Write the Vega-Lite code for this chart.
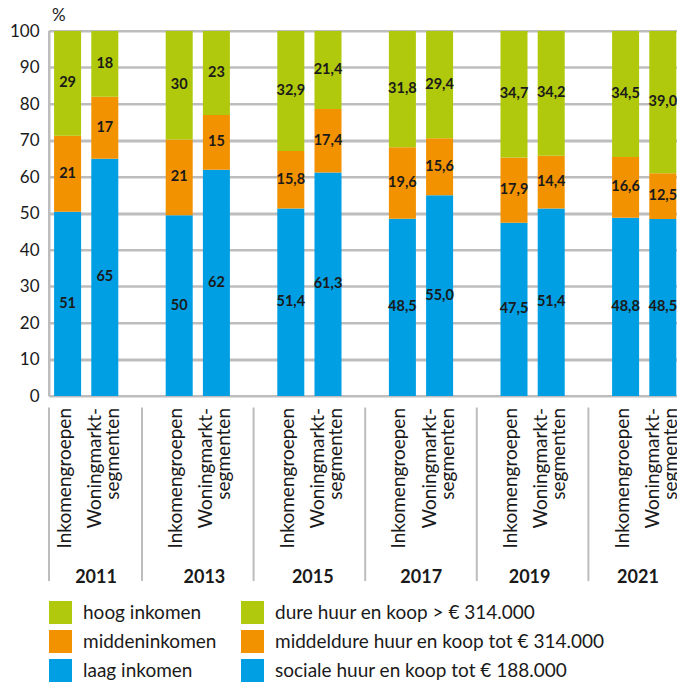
{
  "$schema": "https://vega.github.io/schema/vega-lite/v6.json",
  "width": 628,
  "height": 365,
  "autosize": {"type": "none"},
  "padding": {"left": 49, "top": 31, "right": 0, "bottom": 290},
  "background": "white",
  "title": {"text": "%", "anchor": "start", "frame": "group", "offset": -3, "dx": 3, "fontSize": 17, "fontWeight": "normal", "font": "Lato", "color": "#1a1a1a"},
  "config": {"view": {"stroke": null, "fill": null}, "font": "Lato"},
  "data": {"values": [
    {"year": "2011", "type": "Inkomengroepen", "level": 1, "cat": "laag inkomen", "value": 51, "label": "51"},
    {"year": "2011", "type": "Inkomengroepen", "level": 2, "cat": "middeninkomen", "value": 21, "label": "21"},
    {"year": "2011", "type": "Inkomengroepen", "level": 3, "cat": "hoog inkomen", "value": 29, "label": "29"},
    {"year": "2011", "type": "Woningmarktsegmenten", "level": 1, "cat": "sociale huur en koop tot € 188.000", "value": 65, "label": "65"},
    {"year": "2011", "type": "Woningmarktsegmenten", "level": 2, "cat": "middeldure huur en koop tot € 314.000", "value": 17, "label": "17"},
    {"year": "2011", "type": "Woningmarktsegmenten", "level": 3, "cat": "dure huur en koop > € 314.000", "value": 18, "label": "18"},
    {"year": "2013", "type": "Inkomengroepen", "level": 1, "cat": "laag inkomen", "value": 50, "label": "50"},
    {"year": "2013", "type": "Inkomengroepen", "level": 2, "cat": "middeninkomen", "value": 21, "label": "21"},
    {"year": "2013", "type": "Inkomengroepen", "level": 3, "cat": "hoog inkomen", "value": 30, "label": "30"},
    {"year": "2013", "type": "Woningmarktsegmenten", "level": 1, "cat": "sociale huur en koop tot € 188.000", "value": 62, "label": "62"},
    {"year": "2013", "type": "Woningmarktsegmenten", "level": 2, "cat": "middeldure huur en koop tot € 314.000", "value": 15, "label": "15"},
    {"year": "2013", "type": "Woningmarktsegmenten", "level": 3, "cat": "dure huur en koop > € 314.000", "value": 23, "label": "23"},
    {"year": "2015", "type": "Inkomengroepen", "level": 1, "cat": "laag inkomen", "value": 51.4, "label": "51,4"},
    {"year": "2015", "type": "Inkomengroepen", "level": 2, "cat": "middeninkomen", "value": 15.8, "label": "15,8"},
    {"year": "2015", "type": "Inkomengroepen", "level": 3, "cat": "hoog inkomen", "value": 32.9, "label": "32,9"},
    {"year": "2015", "type": "Woningmarktsegmenten", "level": 1, "cat": "sociale huur en koop tot € 188.000", "value": 61.3, "label": "61,3"},
    {"year": "2015", "type": "Woningmarktsegmenten", "level": 2, "cat": "middeldure huur en koop tot € 314.000", "value": 17.4, "label": "17,4"},
    {"year": "2015", "type": "Woningmarktsegmenten", "level": 3, "cat": "dure huur en koop > € 314.000", "value": 21.4, "label": "21,4"},
    {"year": "2017", "type": "Inkomengroepen", "level": 1, "cat": "laag inkomen", "value": 48.5, "label": "48,5"},
    {"year": "2017", "type": "Inkomengroepen", "level": 2, "cat": "middeninkomen", "value": 19.6, "label": "19,6"},
    {"year": "2017", "type": "Inkomengroepen", "level": 3, "cat": "hoog inkomen", "value": 31.8, "label": "31,8"},
    {"year": "2017", "type": "Woningmarktsegmenten", "level": 1, "cat": "sociale huur en koop tot € 188.000", "value": 55.0, "label": "55,0"},
    {"year": "2017", "type": "Woningmarktsegmenten", "level": 2, "cat": "middeldure huur en koop tot € 314.000", "value": 15.6, "label": "15,6"},
    {"year": "2017", "type": "Woningmarktsegmenten", "level": 3, "cat": "dure huur en koop > € 314.000", "value": 29.4, "label": "29,4"},
    {"year": "2019", "type": "Inkomengroepen", "level": 1, "cat": "laag inkomen", "value": 47.5, "label": "47,5"},
    {"year": "2019", "type": "Inkomengroepen", "level": 2, "cat": "middeninkomen", "value": 17.9, "label": "17,9"},
    {"year": "2019", "type": "Inkomengroepen", "level": 3, "cat": "hoog inkomen", "value": 34.7, "label": "34,7"},
    {"year": "2019", "type": "Woningmarktsegmenten", "level": 1, "cat": "sociale huur en koop tot € 188.000", "value": 51.4, "label": "51,4"},
    {"year": "2019", "type": "Woningmarktsegmenten", "level": 2, "cat": "middeldure huur en koop tot € 314.000", "value": 14.4, "label": "14,4"},
    {"year": "2019", "type": "Woningmarktsegmenten", "level": 3, "cat": "dure huur en koop > € 314.000", "value": 34.2, "label": "34,2"},
    {"year": "2021", "type": "Inkomengroepen", "level": 1, "cat": "laag inkomen", "value": 48.8, "label": "48,8"},
    {"year": "2021", "type": "Inkomengroepen", "level": 2, "cat": "middeninkomen", "value": 16.6, "label": "16,6"},
    {"year": "2021", "type": "Inkomengroepen", "level": 3, "cat": "hoog inkomen", "value": 34.5, "label": "34,5"},
    {"year": "2021", "type": "Woningmarktsegmenten", "level": 1, "cat": "sociale huur en koop tot € 188.000", "value": 48.5, "label": "48,5"},
    {"year": "2021", "type": "Woningmarktsegmenten", "level": 2, "cat": "middeldure huur en koop tot € 314.000", "value": 12.5, "label": "12,5"},
    {"year": "2021", "type": "Woningmarktsegmenten", "level": 3, "cat": "dure huur en koop > € 314.000", "value": 39.0, "label": "39,0"}
  ]},
  "layer": [
    {
      "data": {"values": [{"tick": 0}, {"tick": 0.1}, {"tick": 0.2}, {"tick": 0.3}, {"tick": 0.4}, {"tick": 0.5}, {"tick": 0.6}, {"tick": 0.7}, {"tick": 0.8}, {"tick": 0.9}, {"tick": 1}]},
      "mark": {"type": "rule", "color": "#bdbdbd", "strokeWidth": 2},
      "encoding": {
        "y": {"field": "tick", "type": "quantitative", "title": null, "axis": null}
      }
    },
    {
      "transform": [{"filter": "datum.level === 1 && datum.type === 'Inkomengroepen'"}],
      "mark": {"type": "text", "font": "Lato", "fontSize": 18, "fontWeight": "bold", "color": "#1a1a1a", "align": "center", "baseline": "alphabetic"},
      "encoding": {
        "x": {
          "field": "year", "type": "nominal", "title": null, "axis": null,
          "scale": {"type": "point", "domain": ["2011", "2013", "2015", "2017", "2019", "2021"], "padding": 0.3967, "align": 0.5465}
        },
        "y": {
          "datum": -0.5123, "type": "quantitative", "title": null,
          "scale": {"domain": [0, 1], "nice": false, "zero": true},
          "axis": {
            "orient": "left",
            "values": [0, 0.1, 0.2, 0.3, 0.4, 0.5, 0.6, 0.7, 0.8, 0.9, 1],
            "labelExpr": "round(datum.value * 100)",
            "labelOverlap": false,
            "grid": true, "gridColor": "#bdbdbd", "gridWidth": 2,
            "domain": true, "domainColor": "#bdbdbd", "domainWidth": 2,
            "ticks": false,
            "labelPadding": 10, "labelFont": "Lato", "labelFontSize": 17, "labelColor": "#1a1a1a"
          }
        },
        "text": {"field": "year"}
      }
    },
    {
      "transform": [
        {"stack": "value", "groupby": ["year", "type"], "sort": [{"field": "level", "order": "ascending"}], "offset": "normalize", "as": ["y0", "y1"]},
        {"calculate": "(datum.y0 + datum.y1) / 2", "as": "mid"}
      ],
      "layer": [
        {
          "transform": [{"filter": "datum.type === 'Inkomengroepen'"}],
          "mark": {"type": "bar"},
          "encoding": {
            "x": {
              "field": "year", "type": "nominal", "title": null,
              "scale": {"domain": ["2011", "2013", "2015", "2017", "2019", "2021"], "range": [-18.6, 651], "paddingInner": 0, "paddingOuter": 0},
              "axis": null
            },
            "xOffset": {"field": "type", "type": "nominal", "scale": {"domain": ["Inkomengroepen", "Woningmarktsegmenten"], "paddingInner": 0.274, "paddingOuter": 0.637}},
            "y": {"field": "y0", "type": "quantitative", "title": null, "axis": null},
            "y2": {"field": "y1"},
            "fill": {
              "field": "cat", "type": "nominal",
              "scale": {"domain": ["hoog inkomen", "middeninkomen", "laag inkomen"], "range": ["#b0c90c", "#f39200", "#009fe3"]},
              "legend": {"title": null, "orient": "none", "legendX": 0, "legendY": 570, "direction": "vertical", "symbolType": "square", "symbolSize": 529, "symbolStrokeWidth": 0, "labelFont": "Lato", "labelFontSize": 19, "labelColor": "#1a1a1a", "labelOffset": 11, "rowPadding": 6, "labelLimit": 400}
            }
          }
        },
        {
          "transform": [{"filter": "datum.type === 'Woningmarktsegmenten'"}],
          "mark": {"type": "bar"},
          "encoding": {
            "x": {"field": "year", "type": "nominal", "title": null, "axis": null},
            "xOffset": {"field": "type", "type": "nominal"},
            "y": {"field": "y0", "type": "quantitative", "title": null, "axis": null},
            "y2": {"field": "y1"},
            "fill": {
              "field": "cat", "type": "nominal",
              "scale": {"domain": ["dure huur en koop > € 314.000", "middeldure huur en koop tot € 314.000", "sociale huur en koop tot € 188.000"], "range": ["#b0c90c", "#f39200", "#009fe3"]},
              "legend": {"title": null, "orient": "none", "legendX": 192, "legendY": 570, "direction": "vertical", "symbolType": "square", "symbolSize": 529, "symbolStrokeWidth": 0, "labelFont": "Lato", "labelFontSize": 19, "labelColor": "#1a1a1a", "labelOffset": 11, "rowPadding": 6, "labelLimit": 400}
            }
          }
        },
        {
          "mark": {"type": "text", "font": "Lato", "fontSize": 14.5, "fontWeight": "bold", "color": "#1a1a1a", "align": "center", "baseline": "middle"},
          "encoding": {
            "x": {"field": "year", "type": "nominal", "title": null, "axis": null},
            "xOffset": {"field": "type", "type": "nominal"},
            "y": {"field": "mid", "type": "quantitative", "title": null, "axis": null},
            "text": {"field": "label"}
          }
        },
        {
          "transform": [{"filter": "datum.level === 1 && datum.type === 'Inkomengroepen'"}],
          "mark": {"type": "text", "font": "Lato", "fontSize": 19, "color": "#1a1a1a", "angle": 270, "align": "right", "baseline": "middle", "dx": -12, "dy": -3},
          "encoding": {
            "x": {"field": "year", "type": "nominal", "title": null, "axis": null},
            "xOffset": {"field": "type", "type": "nominal"},
            "y": {"datum": 0, "type": "quantitative", "title": null, "axis": null},
            "text": {"field": "type"}
          }
        },
        {
          "transform": [{"filter": "datum.level === 1 && datum.type === 'Woningmarktsegmenten'"}],
          "mark": {"type": "text", "font": "Lato", "fontSize": 19, "color": "#1a1a1a", "angle": 270, "align": "right", "baseline": "middle", "dx": -12, "dy": -10, "lineHeight": 18},
          "encoding": {
            "x": {"field": "year", "type": "nominal", "title": null, "axis": null},
            "xOffset": {"field": "type", "type": "nominal"},
            "y": {"datum": 0, "type": "quantitative", "title": null, "axis": null},
            "text": {"value": ["Woningmarkt-", "segmenten"]}
          }
        },
        {
          "transform": [{"filter": "datum.level === 1 && datum.type === 'Inkomengroepen' && datum.year !== '2011'"}],
          "mark": {"type": "rule", "color": "#bdbdbd", "strokeWidth": 2},
          "encoding": {
            "x": {"field": "year", "type": "nominal", "bandPosition": 0, "title": null, "axis": null},
            "y": {"datum": -0.0315, "type": "quantitative", "title": null, "axis": null},
            "y2": {"datum": -0.507}
          }
        },
        {
          "transform": [{"filter": "datum.level === 1 && datum.type === 'Inkomengroepen' && datum.year === '2011'"}],
          "mark": {"type": "rule", "color": "#bdbdbd", "strokeWidth": 2},
          "encoding": {
            "x": {"field": "year", "type": "nominal", "bandPosition": 0.16667, "title": null, "axis": null},
            "y": {"datum": -0.0315, "type": "quantitative", "title": null, "axis": null},
            "y2": {"datum": -0.507}
          }
        },
        {
          "transform": [{"filter": "datum.level === 1 && datum.type === 'Inkomengroepen' && datum.year === '2011'"}],
          "mark": {"type": "rule", "color": "#bdbdbd", "strokeWidth": 2},
          "encoding": {
            "x": {"field": "year", "type": "nominal", "bandPosition": 0.16667, "title": null, "axis": null},
            "y": {"datum": 0, "type": "quantitative", "title": null, "axis": null},
            "y2": {"datum": 1}
          }
        }
      ],
      "resolve": {"scale": {"fill": "independent"}, "axis": {"y": "independent"}}
    }
  ],
  "resolve": {"scale": {"x": "independent"}, "axis": {"y": "independent"}}
}
